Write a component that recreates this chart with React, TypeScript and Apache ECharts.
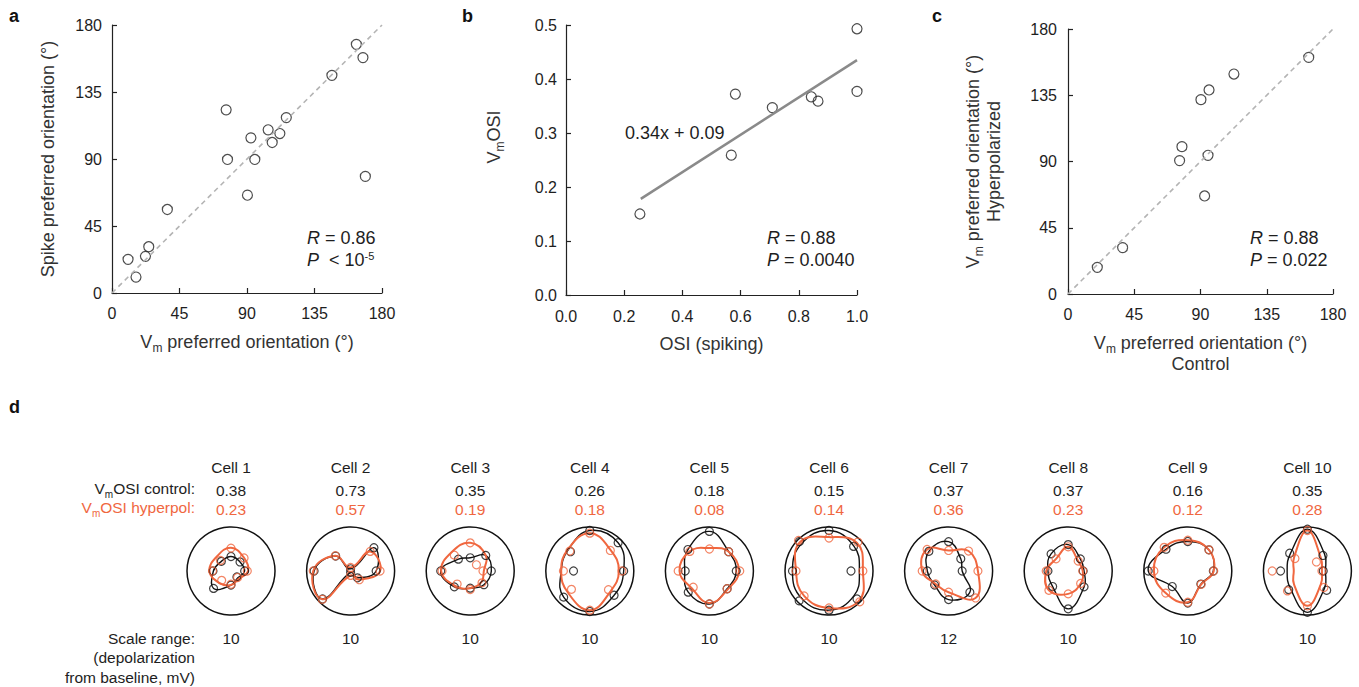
import React, { useEffect, useRef } from 'react';
import * as echarts from 'echarts';

// ---------- data ----------
const A_VM_PREF = [162.9, 167.3, 146.6, 76.1, 116.2, 104.1, 111.9, 92.6, 106.8, 77.0, 95.2, 168.9, 90.3, 36.9, 24.5, 22.3, 10.7, 16.0];
const A_SPIKE_PREF = [167.0, 158.1, 146.2, 123.0, 117.8, 109.6, 107.1, 104.2, 101.1, 89.7, 89.7, 78.3, 65.7, 56.1, 31.1, 24.6, 22.6, 10.7];
const B_OSI_SPIKING = [1.0, 1.0, 0.582, 0.709, 0.843, 0.866, 0.568, 0.254];
const B_VM_OSI = [0.493, 0.377, 0.372, 0.347, 0.367, 0.359, 0.259, 0.15];
const B_REG_X = [0.257, 1.0];
const B_REG_Y = [0.178, 0.435];
const C_CONTROL = [163.5, 112.7, 95.8, 90.3, 77.4, 75.8, 95.1, 92.8, 37.1, 19.9];
const C_HYPER = [160.7, 149.4, 138.6, 132.0, 100.1, 90.6, 94.2, 66.6, 31.5, 18.1];
const DIAG = [0, 180];

const CELLS = ['Cell 1', 'Cell 2', 'Cell 3', 'Cell 4', 'Cell 5', 'Cell 6', 'Cell 7', 'Cell 8', 'Cell 9', 'Cell 10'];
const OSI_CONTROL = ['0.38', '0.73', '0.35', '0.26', '0.18', '0.15', '0.37', '0.37', '0.16', '0.35'];
const OSI_HYPERPOL = ['0.23', '0.57', '0.19', '0.18', '0.08', '0.14', '0.36', '0.23', '0.12', '0.28'];
const SCALE_RANGE = [10, 10, 10, 10, 10, 10, 12, 10, 10, 10];
const ANGLES = [0, 45, 90, 135, 180, 225, 270, 315];

const CONTROL_R = [
  [3.1, 2.9, 3.3, 3.1, 4.1, 5.6, 3.2, 1.9],
  [5.8, 7.5, 0.5, 4.8, 8.3, 9.0, 0.3, 2.2],
  [4.8, 5.0, 3.0, 3.8, 6.7, 5.1, 3.9, 4.4],
  [7.7, 9.1, 9.2, 6.2, 3.7, 8.4, 9.2, 7.8],
  [6.1, 6.2, 9.0, 6.9, 5.5, 6.8, 7.5, 5.7],
  [5.0, 7.9, 9.2, 9.5, 8.3, 9.6, 8.9, 9.0],
  [3.7, 4.7, 8.0, 7.6, 5.8, 5.4, 7.8, 8.2],
  [3.4, 3.9, 6.0, 5.5, 4.6, 5.0, 8.6, 5.1],
  [5.8, 6.8, 6.7, 7.0, 9.0, 5.0, 7.3, 4.2],
  [3.6, 5.0, 9.5, 5.7, 6.1, 6.0, 9.4, 6.2],
];
const HYPERPOL_R = [
  [3.7, 4.2, 5.2, 3.4, 4.2, 3.0, 3.0, 2.1],
  [6.7, 6.3, 0.8, 4.9, 8.5, 9.1, 1.0, 2.8],
  [2.9, 2.0, 6.4, 5.1, 6.4, 4.2, 4.2, 3.8],
  [7.3, 6.6, 8.6, 6.4, 6.0, 5.9, 8.9, 6.0],
  [6.9, 6.2, 5.0, 6.3, 7.1, 5.2, 7.5, 5.7],
  [7.7, 9.3, 7.5, 9.8, 7.5, 8.0, 8.4, 9.9],
  [8.0, 7.7, 5.6, 8.3, 7.2, 5.0, 5.8, 10.4],
  [3.3, 3.2, 5.5, 3.9, 5.0, 6.2, 5.2, 4.0],
  [5.9, 6.8, 7.0, 7.6, 7.7, 7.1, 7.1, 4.3],
  [3.3, 2.9, 9.2, 4.0, 8.0, 6.4, 7.9, 5.3],
];
// fitted tuning curves, read at the same orientations
const CONTROL_FIT = [
  [3.1, 2.9, 3.3, 3.1, 4.0, 5.6, 3.2, 2.2],
  [5.8, 7.5, 0.5, 4.8, 8.3, 9.0, 0.3, 2.2],
  [4.8, 5.0, 3.0, 3.8, 6.7, 5.1, 3.9, 4.4],
  [7.7, 9.1, 9.2, 6.9, 6.5, 8.4, 9.2, 7.8],
  [6.1, 6.2, 9.0, 6.9, 5.6, 6.8, 7.5, 5.7],
  [6.9, 8.0, 9.2, 8.8, 8.3, 8.8, 8.9, 8.0],
  [3.7, 4.7, 8.0, 7.6, 5.8, 5.4, 7.8, 8.2],
  [3.6, 3.9, 6.0, 5.5, 4.6, 5.0, 8.6, 5.1],
  [5.8, 6.8, 6.7, 7.0, 9.0, 5.0, 7.3, 4.2],
  [4.1, 5.5, 9.5, 5.5, 4.6, 5.5, 9.4, 5.5],
];
const HYPERPOL_FIT = [
  [3.9, 4.2, 5.3, 4.6, 4.9, 3.8, 3.2, 2.5],
  [6.7, 6.3, 0.8, 4.9, 8.5, 9.1, 1.0, 2.8],
  [3.1, 5.0, 6.4, 6.0, 6.6, 4.8, 3.9, 3.6],
  [6.6, 6.7, 8.6, 7.0, 6.5, 7.0, 8.9, 6.6],
  [6.7, 6.2, 5.2, 6.3, 6.8, 5.6, 7.3, 5.9],
  [7.7, 9.0, 7.7, 9.3, 7.5, 8.0, 8.4, 9.6],
  [8.0, 7.7, 5.6, 8.3, 7.2, 5.0, 5.8, 10.4],
  [3.3, 3.2, 5.5, 3.9, 5.0, 6.2, 5.2, 4.0],
  [5.9, 6.8, 7.0, 7.6, 7.7, 7.1, 7.1, 4.3],
  [3.3, 4.3, 9.2, 4.3, 3.1, 4.3, 7.9, 4.3],
];

// ---------- styles ----------
const FONT = "'Liberation Sans', Arial, Helvetica, sans-serif";
const TXT = '#1e1e1e';
const ORANGE = '#f0673f';

const richFor = (color: string, size: number) => ({
  t: { fontSize: size, fontFamily: FONT, color, lineHeight: size + 3, verticalAlign: 'top', padding: [0, 0, 4, 0] },
  s: { fontSize: Math.round(size * 0.66), fontFamily: FONT, color, lineHeight: Math.round(size * 0.66), verticalAlign: 'bottom' },
  i: { fontSize: size, fontFamily: FONT, color, lineHeight: size + 3, fontStyle: 'italic', verticalAlign: 'top', padding: [0, 0, 4, 0] },
  sup: { fontSize: Math.round(size * 0.62), fontFamily: FONT, color, lineHeight: Math.round(size * 0.62), verticalAlign: 'top' },
});

const axisCommon = (min: number, max: number, interval: number, margin: number, fmt?: (v: number) => string) => ({
  type: 'value',
  min,
  max,
  interval,
  axisLine: { show: true, onZero: false, lineStyle: { color: '#222', width: 1.2 } },
  axisTick: { show: true, inside: true, length: 5, lineStyle: { color: '#222', width: 1.2 } },
  axisLabel: { color: TXT, fontSize: 16, fontFamily: FONT, formatter: fmt, margin },
  splitLine: { show: false },
  nameLocation: 'middle',
  nameTextStyle: { rich: richFor('#333', 18) },
});

const hollow = (color: string, size: number) => ({
  symbol: 'circle',
  symbolSize: size,
  itemStyle: { color: 'rgba(0,0,0,0)', borderColor: color, borderWidth: 1.2 },
});

const one = (v: number) => v.toFixed(1);
const cellX = (i: number) => 231 + i * 119.6;
const CELL_Y = 571;

export default function App() {
  const ref = useRef<HTMLDivElement>(null);
  useEffect(() => {
    const chart = echarts.init(ref.current as HTMLDivElement, null, { renderer: 'svg' });

    const polar: any[] = [];
    const radiusAxis: any[] = [];
    const angleAxis: any[] = [];
    const series: any[] = [];
    const graphic: any[] = [];

    // scatter panels
    series.push({
      type: 'line', xAxisIndex: 0, yAxisIndex: 0, data: DIAG.map((v) => [v, v]), symbol: 'none',
      lineStyle: { color: '#b4b4b4', width: 1.6, type: [5, 4] }, silent: true,
    });
    series.push({ type: 'scatter', xAxisIndex: 0, yAxisIndex: 0, data: A_VM_PREF.map((x, i) => [x, A_SPIKE_PREF[i]]), ...hollow('#222', 10) });
    series.push({
      type: 'line', xAxisIndex: 1, yAxisIndex: 1, data: B_REG_X.map((x, i) => [x, B_REG_Y[i]]), symbol: 'none',
      lineStyle: { color: '#8a8a8a', width: 2.5 },
    });
    series.push({ type: 'scatter', xAxisIndex: 1, yAxisIndex: 1, data: B_OSI_SPIKING.map((x, i) => [x, B_VM_OSI[i]]), ...hollow('#222', 10) });
    series.push({
      type: 'line', xAxisIndex: 2, yAxisIndex: 2, data: DIAG.map((v) => [v, v]), symbol: 'none',
      lineStyle: { color: '#b4b4b4', width: 1.6, type: [5, 4] }, silent: true,
    });
    series.push({ type: 'scatter', xAxisIndex: 2, yAxisIndex: 2, data: C_CONTROL.map((x, i) => [x, C_HYPER[i]]), ...hollow('#222', 10) });

    const closedCurve = (i: number, vals: number[], color: string, width: number) => ({
      type: 'custom',
      coordinateSystem: 'polar',
      polarIndex: i,
      silent: true,
      data: ANGLES.map((a, j) => [vals[j], a]),
      renderItem: (params: any, api: any) => {
        if (params.dataIndex !== 0) return null;
        const pts: number[][] = [];
        for (let j = 0; j < ANGLES.length; j++) pts.push(api.coord([api.value(0, j), api.value(1, j)]));
        return {
          type: 'polygon',
          shape: { points: pts, smooth: 0.45 },
          style: { fill: 'none', stroke: color, lineWidth: width },
        };
      },
    });

    const d14 = 15.5;
    CELLS.forEach((name, i) => {
      polar.push({ center: [cellX(i), CELL_Y], radius: 44 });
      radiusAxis.push({
        polarIndex: i, type: 'value', min: 0, max: SCALE_RANGE[i],
        axisLine: { show: false }, axisTick: { show: false }, axisLabel: { show: false }, splitLine: { show: false },
      });
      angleAxis.push({
        polarIndex: i, type: 'value', min: 0, max: 360, startAngle: 0, clockwise: false,
        axisLine: { show: true, lineStyle: { color: '#111', width: 1.5 } },
        axisTick: { show: false }, axisLabel: { show: false }, splitLine: { show: false },
      });
      const pts = (vals: number[]) => ANGLES.map((a, j) => [vals[j], a]);
      series.push(closedCurve(i, CONTROL_FIT[i], '#111', 1.4));
      series.push({ type: 'scatter', coordinateSystem: 'polar', polarIndex: i, data: pts(CONTROL_R[i]), ...hollow('#111', 8) });
      series.push(closedCurve(i, HYPERPOL_FIT[i], ORANGE, 2));
      series.push({ type: 'scatter', coordinateSystem: 'polar', polarIndex: i, data: pts(HYPERPOL_R[i]), ...hollow(ORANGE, 8) });

      const cx = cellX(i);
      const t = (y: number, text: string, fill: string) => ({
        type: 'text', x: cx, y, style: { text, fontSize: d14, fontFamily: FONT, fill, align: 'center', verticalAlign: 'middle' },
      });
      graphic.push(t(467, name, TXT), t(490, OSI_CONTROL[i], TXT), t(509, OSI_HYPERPOL[i], ORANGE), t(638, String(SCALE_RANGE[i]), TXT));
    });

    const gtext = (x: number, y: number, text: string, color: string, size: number, align = 'left', rich = true) => ({
      type: 'text', x, y,
      style: { text, rich: rich ? richFor(color, size) : undefined, fontSize: size, fontFamily: FONT, fill: color, align, verticalAlign: 'middle' },
    });

    graphic.push(gtext(195, 490, '{t|V}{s|m}{t|OSI control:}', TXT, d14, 'right'));
    graphic.push(gtext(195, 509, '{t|V}{s|m}{t|OSI hyperpol:}', ORANGE, d14, 'right'));
    graphic.push(gtext(195, 638, 'Scale range:', TXT, d14, 'right', false));
    graphic.push(gtext(195, 657, '(depolarization', TXT, d14, 'right', false));
    graphic.push(gtext(195, 677, 'from baseline, mV)', TXT, d14, 'right', false));

    // stats
    graphic.push(gtext(307, 239, '{i|R}{t| = 0.86}', TXT, 18));
    graphic.push(gtext(307, 261, '{i|P}{t|  < 10}{sup|-5}', TXT, 18));
    graphic.push(gtext(767, 239, '{i|R}{t| = 0.88}', TXT, 18));
    graphic.push(gtext(767, 261, '{i|P}{t| = 0.0040}', TXT, 18));
    graphic.push(gtext(1250, 239, '{i|R}{t| = 0.88}', TXT, 18));
    graphic.push(gtext(1250, 261, '{i|P}{t| = 0.022}', TXT, 18));
    graphic.push(gtext(625, 133, '0.34x + 0.09', TXT, 18, 'left', false));

    // panel letters
    const letter = (x: number, y: number, t: string) => ({
      type: 'text', x, y, style: { text: t, fontSize: 18, fontWeight: 'bold', fontFamily: FONT, fill: '#111', align: 'left', verticalAlign: 'middle' },
    });
    graphic.push(letter(9, 16, 'a'), letter(462, 16, 'b'), letter(932, 16, 'c'), letter(9, 407, 'd'));

    const option: any = {
      animation: false,
      backgroundColor: '#fff',
      grid: [
        { left: 112, top: 25, width: 270, height: 268 },
        { left: 566, top: 25, width: 291, height: 270 },
        { left: 1068, top: 29, width: 265, height: 265 },
      ],
      xAxis: [
        { ...axisCommon(0, 180, 45, 12), gridIndex: 0, name: '{t|V}{s|m}{t| preferred orientation (°)}', nameGap: 40 },
        { ...axisCommon(0, 1, 0.2, 13, one), gridIndex: 1, name: '{t|OSI (spiking)}', nameGap: 40 },
        { ...axisCommon(0, 180, 45, 12), gridIndex: 2, name: '{t|V}{s|m}{t| preferred orientation (°)}\n{t|Control}', nameGap: 40 },
      ],
      yAxis: [
        { ...axisCommon(0, 180, 45, 10), gridIndex: 0, name: '{t|Spike preferred orientation (°)}', nameGap: 52 },
        {
          ...axisCommon(0, 0.5, 0.1, 9, one), gridIndex: 1, name: '{t|V}{s|m}{t|OSI}', nameGap: 60,
          nameTextStyle: { rich: richFor('#333', 18), padding: [0, 0, 0, 46] },
        },
        { ...axisCommon(0, 180, 45, 11), gridIndex: 2, name: '{t|V}{s|m}{t| preferred orientation (°)}\n{t|Hyperpolarized}', nameGap: 62 },
      ],
      polar,
      radiusAxis,
      angleAxis,
      series,
      graphic,
    };
    chart.setOption(option);
    return () => chart.dispose();
  }, []);
  return <div ref={ref} style={{ position: 'absolute', left: 0, top: 0, width: 1359, height: 687 }} />;
}
